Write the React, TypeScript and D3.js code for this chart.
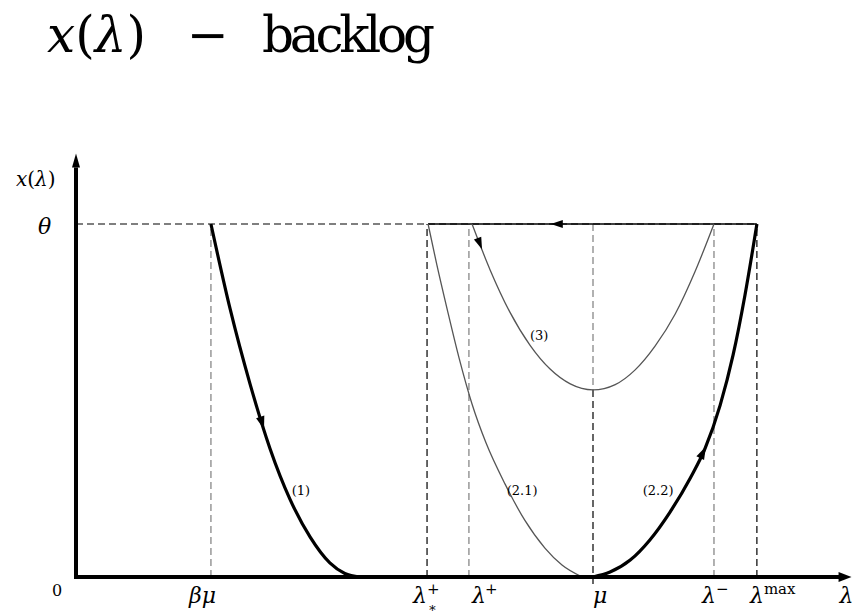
import React, { useEffect, useRef } from 'react';
import * as d3 from 'd3';

// lambda in units of mu, backlog in units of theta
const ticks = [
  { key: 'bmu', at: 0.261, dark: false },
  { key: 'lstar', at: 0.679, dark: true },
  { key: 'lplus', at: 0.76, dark: false },
  { key: 'mu', at: 1.0, dark: true },
  { key: 'lminus', at: 1.234, dark: false },
  { key: 'lmax', at: 1.317, dark: true },
];

const curve1 = [
  [0.261, 1.0], [0.298, 0.76], [0.337, 0.545], [0.375, 0.365], [0.414, 0.22],
  [0.453, 0.113], [0.491, 0.04], [0.52, 0.01], [0.549, 0],
];
const curve21 = [
  [0.681, 1.0], [0.698, 0.884], [0.718, 0.758], [0.741, 0.62], [0.766, 0.49],
  [0.793, 0.38], [0.83, 0.263], [0.868, 0.161], [0.907, 0.082], [0.94, 0.034], [0.979, 0],
];
const curve22 = [
  [1.0, 0], [1.033, 0.014], [1.072, 0.048], [1.11, 0.105], [1.149, 0.184],
  [1.188, 0.28], [1.217, 0.365], [1.246, 0.487], [1.271, 0.629], [1.294, 0.799], [1.317, 1.0],
];
const curve3 = [
  [0.766, 1.0], [0.801, 0.87], [0.839, 0.751], [0.878, 0.657], [0.917, 0.589],
  [0.956, 0.547], [1.0, 0.53], [1.043, 0.545], [1.081, 0.586], [1.12, 0.654],
  [1.159, 0.745], [1.197, 0.864], [1.234, 1.0],
];
const topLine = [[0.681, 1.0], [1.317, 1.0]];
const curve3Min = 0.53;

const labels = [
  { text: '(1)', at: [0.435, 0.246] },
  { text: '(2.1)', at: [0.863, 0.246] },
  { text: '(2.2)', at: [1.126, 0.246] },
  { text: '(3)', at: [0.896, 0.686] },
];

const FONT = "'DejaVu Serif', serif";

export default function App() {
  const ref = useRef<SVGSVGElement>(null);

  useEffect(() => {
    const svg = d3.select(ref.current);
    svg.selectAll('*').remove();

    const x = d3.scaleLinear().domain([0, 1.5]).range([76, 851.5]);
    const y = d3.scaleLinear().domain([0, 1]).range([577, 224]);

    const line = d3
      .line<number[]>()
      .x(d => x(d[0]))
      .y(d => y(d[1]))
      .curve(d3.curveMonotoneX);

    // title
    const title = svg.append('text').attr('y', 52).style('font-family', FONT).attr('font-size', 50);
    title.append('tspan').attr('x', 47).attr('font-style', 'italic').text('x');
    title.append('tspan').text('(');
    title.append('tspan').attr('font-style', 'italic').text('λ');
    title.append('tspan').text(')');
    svg.append('text').attr('x', 187).attr('y', 52).style('font-family', FONT).attr('font-size', 50).text('−');
    svg.append('text').attr('x', 262).attr('y', 52).style('font-family', FONT).attr('font-size', 50)
      .attr('textLength', 173).text('backlog');

    // theta dashed
    svg.append('line')
      .attr('x1', x(0)).attr('x2', x(1.317))
      .attr('y1', y(1)).attr('y2', y(1))
      .attr('stroke', '#000').attr('stroke-width', 1.2).attr('stroke-dasharray', '7,4');

    // vertical dashed lines
    ticks.forEach(t => {
      if (t.key === 'mu') {
        svg.append('line')
          .attr('x1', x(t.at)).attr('x2', x(t.at))
          .attr('y1', y(1)).attr('y2', y(curve3Min))
          .attr('stroke', '#888').attr('stroke-width', 1.3).attr('stroke-dasharray', '7,4');
        svg.append('line')
          .attr('x1', x(t.at)).attr('x2', x(t.at))
          .attr('y1', y(curve3Min)).attr('y2', y(0) + 7)
          .attr('stroke', '#000').attr('stroke-width', 1.2).attr('stroke-dasharray', '7,4');
      } else {
        svg.append('line')
          .attr('x1', x(t.at)).attr('x2', x(t.at))
          .attr('y1', y(0)).attr('y2', y(1))
          .attr('stroke', t.dark ? '#000' : '#888')
          .attr('stroke-width', t.dark ? 1.2 : 1.3)
          .attr('stroke-dasharray', '7,4');
      }
    });

    // curves
    svg.append('path').attr('d', line(topLine)).attr('fill', 'none').attr('stroke', '#000').attr('stroke-width', 1.3);
    svg.append('path').attr('d', line(curve21)).attr('fill', 'none').attr('stroke', '#555').attr('stroke-width', 1.3);
    svg.append('path').attr('d', line(curve3)).attr('fill', 'none').attr('stroke', '#555').attr('stroke-width', 1.3);
    svg.append('path').attr('d', line(curve1)).attr('fill', 'none').attr('stroke', '#000').attr('stroke-width', 3.2);
    svg.append('path').attr('d', line(curve22)).attr('fill', 'none').attr('stroke', '#000').attr('stroke-width', 3.2);

    // arrowheads along curves
    const arrow = (pts: number[][], at: number, reverse: boolean, size: number) => {
      let i = 0;
      while (i < pts.length - 2 && pts[i + 1][0] < at) i++;
      const a = pts[i], b = pts[i + 1];
      const t = (at - a[0]) / (b[0] - a[0]);
      const px = x(a[0] + t * (b[0] - a[0]));
      const py = y(a[1] + t * (b[1] - a[1]));
      let ang = Math.atan2(y(b[1]) - y(a[1]), x(b[0]) - x(a[0]));
      if (reverse) ang += Math.PI;
      const len = size, half = size * 0.33;
      const tip = [px + Math.cos(ang) * len * 0.5, py + Math.sin(ang) * len * 0.5];
      const back = [px - Math.cos(ang) * len * 0.5, py - Math.sin(ang) * len * 0.5];
      const n = [-Math.sin(ang), Math.cos(ang)];
      const p = [
        tip,
        [back[0] + n[0] * half, back[1] + n[1] * half],
        [back[0] - n[0] * half, back[1] - n[1] * half],
      ];
      svg.append('path').attr('d', 'M' + p.map(q => q.join(',')).join('L') + 'Z').attr('fill', '#000');
    };
    arrow(curve1, 0.36, false, 13);
    arrow(curve3, 0.781, false, 12);
    arrow(curve22, 1.213, false, 13);
    arrow(topLine, 0.93, true, 12);

    // axes
    svg.append('line').attr('x1', x(0)).attr('x2', x(0)).attr('y1', y(0) + 2).attr('y2', y(1.16))
      .attr('stroke', '#000').attr('stroke-width', 4);
    svg.append('path')
      .attr('d', `M${x(0)},${y(1.2)}L${x(0) - 4},${y(1.16)}L${x(0) + 4},${y(1.16)}Z`)
      .attr('fill', '#000');
    svg.append('line').attr('x1', x(0) - 2).attr('x2', x(1.48)).attr('y1', y(0)).attr('y2', y(0))
      .attr('stroke', '#000').attr('stroke-width', 4);
    svg.append('path')
      .attr('d', `M${x(1.5)},${y(0)}L${x(1.475)},${y(0) - 5}L${x(1.475)},${y(0) + 5}Z`)
      .attr('fill', '#000');

    // axis labels
    const yl = svg.append('text').attr('y', 186).style('font-family', FONT).attr('font-size', 20);
    yl.append('tspan').attr('x', 16).attr('font-style', 'italic').text('x');
    yl.append('tspan').text('(');
    yl.append('tspan').attr('font-style', 'italic').text('λ');
    yl.append('tspan').text(')');
    svg.append('text').attr('x', 38).attr('y', 234).style('font-family', FONT).attr('font-size', 22)
      .attr('font-style', 'italic').text('θ');
    svg.append('text').attr('x', 52).attr('y', 596).style('font-family', FONT).attr('font-size', 16).text('0');

    const base = 603;
    const tx = (k: string) => x(ticks.find(t => t.key === k)!.at);
    const T = (s: string, px: number, py: number, size: number, italic = true) =>
      svg.append('text').attr('x', px).attr('y', py).style('font-family', FONT).attr('font-size', size)
        .attr('font-style', italic ? 'italic' : 'normal').text(s);

    T('βμ', tx('bmu') - 22, base, 22);
    T('λ', tx('lstar') - 14, base, 22);
    T('+', tx('lstar'), base - 9, 15, false);
    T('∗', tx('lstar') + 1, base + 9, 13, false);
    T('λ', tx('lplus') + 3, base, 22);
    T('+', tx('lplus') + 16, base - 9, 15, false);
    T('μ', tx('mu'), base, 22);
    T('λ', tx('lminus') - 12, base, 22);
    T('−', tx('lminus') + 2, base - 9, 15, false);
    T('λ', tx('lmax') - 7, base, 22);
    T('max', tx('lmax') + 7, base - 9, 15, false);
    T('λ', x(1.5) - 12, base, 22);

    // curve labels
    labels.forEach(l => {
      svg.append('text')
        .attr('x', x(l.at[0])).attr('y', y(l.at[1]) + 5)
        .attr('text-anchor', 'middle')
        .style('font-family', FONT).attr('font-size', 13)
        .text(l.text);
    });
  }, []);

  return (
    <svg
      ref={ref}
      width={858}
      height={615}
      style={{ position: 'absolute', left: 0, top: 0, background: '#fff' }}
    />
  );
}
